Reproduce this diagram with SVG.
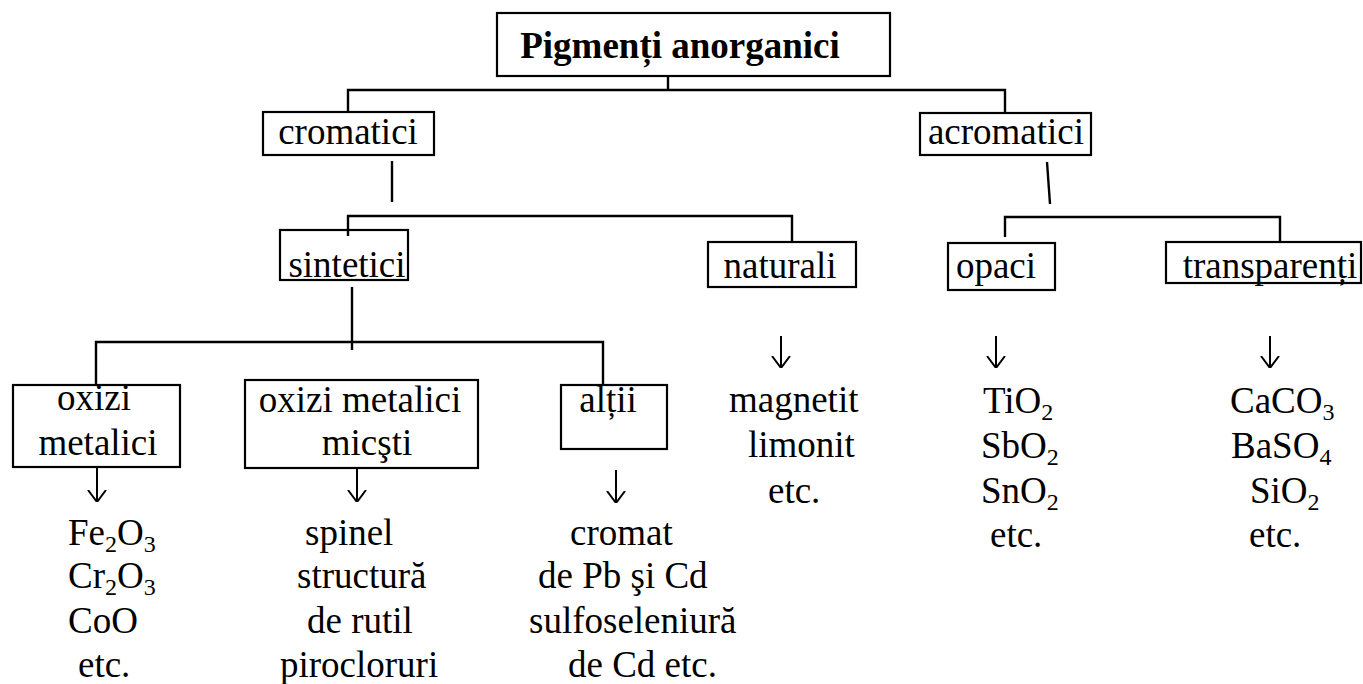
<svg xmlns="http://www.w3.org/2000/svg" width="1363" height="684" viewBox="0 0 1363 684">
<style>
.box{fill:none;stroke:#000;stroke-width:2.2}
.c{fill:none;stroke:#000;stroke-width:2.4}
.a{fill:none;stroke:#000;stroke-width:2}
text{font-family:"Liberation Serif","Times New Roman",serif;font-size:37px;fill:#000}
.b{font-weight:bold}
.m{text-anchor:middle}
.s{font-size:24px}
</style>
<defs>
<marker id="arr" viewBox="0 0 12 20" refX="12" refY="10" markerWidth="12" markerHeight="20" markerUnits="userSpaceOnUse" orient="auto">
<path d="M0,1 L12,10 L0,19" fill="none" stroke="#000" stroke-width="2"/>
</marker>
</defs>
<rect width="1363" height="684" fill="#fff"/>
<g id="connectors">
<path class="c" d="M668,76 V90"/>
<path class="c" d="M348,111 V90 H1005 V113"/>
<path class="c" d="M392,161 V202"/>
<path class="c" d="M348,236 V216 H792 V242"/>
<path class="c" d="M1047,162 L1050,204"/>
<path class="c" d="M1005,237 V217 H1280 V242"/>
<path class="c" d="M352,287 V350"/>
<path class="c" d="M96,385 V342 H603 V385"/>
<path class="a" marker-end="url(#arr)" d="M97,467 V502"/>
<path class="a" marker-end="url(#arr)" d="M357,468 V502"/>
<path class="a" marker-end="url(#arr)" d="M616,470 V503"/>
<path class="a" marker-end="url(#arr)" d="M781,336 V368"/>
<path class="a" marker-end="url(#arr)" d="M996,336 V368"/>
<path class="a" marker-end="url(#arr)" d="M1270,336 V368"/>
</g>
<g id="root">
<rect class="box" x="497" y="13" width="393" height="63"/>
<text class="b m" x="680" y="58">Pigmenți anorganici</text>
</g>
<g id="cromatici">
<rect class="box" x="263" y="112" width="171" height="43"/>
<text class="m" x="348" y="144">cromatici</text>
</g>
<g id="acromatici">
<rect class="box" x="920" y="113" width="171" height="42"/>
<text class="m" x="1006" y="144">acromatici</text>
</g>
<g id="sintetici">
<rect class="box" x="280" y="230" width="128" height="50"/>
<text class="m" x="347" y="277">sintetici</text>
</g>
<g id="naturali">
<rect class="box" x="708" y="242" width="148" height="45"/>
<text class="m" x="780" y="278">naturali</text>
</g>
<g id="opaci">
<rect class="box" x="948" y="243" width="107" height="47"/>
<text class="m" x="996" y="278">opaci</text>
</g>
<g id="transparenti">
<rect class="box" x="1166" y="242" width="195" height="41"/>
<text class="m" x="1270" y="278">transparenți</text>
</g>
<g id="oxizi-metalici">
<rect class="box" x="13" y="385" width="167" height="82"/>
<text class="m" x="94" y="410">oxizi</text>
<text class="m" x="98" y="455">metalici</text>
</g>
<g id="oxizi-metalici-micsti">
<rect class="box" x="245" y="380" width="233" height="88"/>
<text class="m" x="360" y="412">oxizi metalici</text>
<text class="m" x="367" y="455">micşti</text>
</g>
<g id="altii">
<rect class="box" x="561" y="385" width="106" height="64"/>
<text class="m" x="608" y="412">alții</text>
</g>
<g id="list-oxizi">
<text x="68" y="545">Fe<tspan class="s" dy="7">2</tspan><tspan dy="-7">O</tspan><tspan class="s" dy="7">3</tspan></text>
<text x="68" y="588">Cr<tspan class="s" dy="7">2</tspan><tspan dy="-7">O</tspan><tspan class="s" dy="7">3</tspan></text>
<text x="68" y="633">CoO</text>
<text x="78" y="677">etc.</text>
</g>
<g id="list-micsti">
<text x="305" y="545">spinel</text>
<text x="297" y="588">structură</text>
<text x="307" y="633">de rutil</text>
<text x="280" y="677">pirocloruri</text>
</g>
<g id="list-altii">
<text x="570" y="545">cromat</text>
<text x="538" y="588">de Pb şi Cd</text>
<text x="529" y="633">sulfoseleniură</text>
<text x="568" y="677">de Cd etc.</text>
</g>
<g id="list-naturali">
<text x="729" y="412">magnetit</text>
<text x="748" y="457">limonit</text>
<text x="768" y="503">etc.</text>
</g>
<g id="list-opaci">
<text x="983" y="413">TiO<tspan class="s" dy="7">2</tspan></text>
<text x="981" y="458">SbO<tspan class="s" dy="7">2</tspan></text>
<text x="981" y="503">SnO<tspan class="s" dy="7">2</tspan></text>
<text x="990" y="547">etc.</text>
</g>
<g id="list-transparenti">
<text x="1230" y="413">CaCO<tspan class="s" dy="7">3</tspan></text>
<text x="1231" y="458">BaSO<tspan class="s" dy="7">4</tspan></text>
<text x="1250" y="503">SiO<tspan class="s" dy="7">2</tspan></text>
<text x="1249" y="547">etc.</text>
</g>
</svg>
